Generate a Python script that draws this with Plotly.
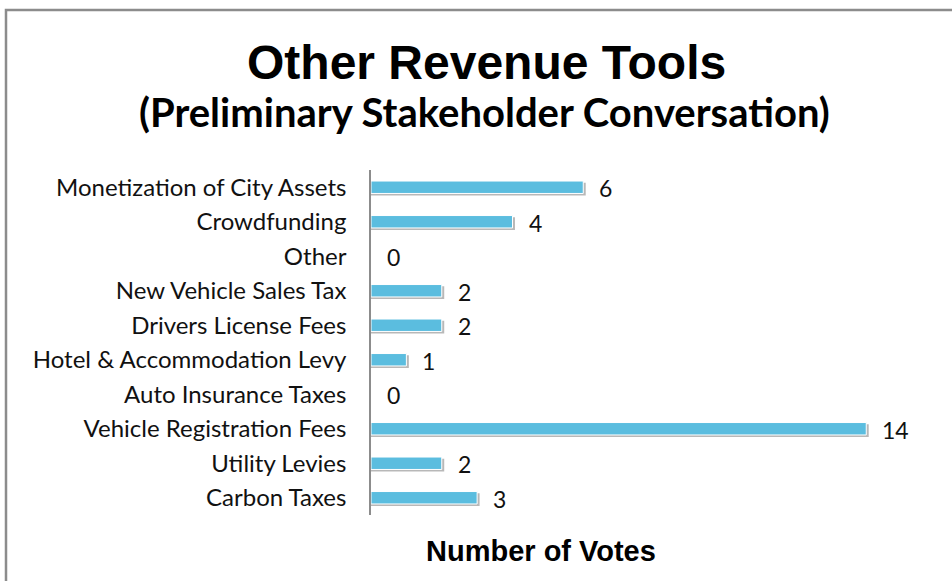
import plotly.graph_objects as go

# Chart data (top to bottom as shown)
categories = [
    "Monetization of City Assets",
    "Crowdfunding",
    "Other",
    "New Vehicle Sales Tax",
    "Drivers License Fees",
    "Hotel & Accommodation Levy",
    "Auto Insurance Taxes",
    "Vehicle Registration Fees",
    "Utility Levies",
    "Carbon Taxes",
]
votes = [6, 4, 0, 2, 2, 1, 0, 14, 2, 3]

title_text = "Other Revenue Tools"
subtitle_text = "(Preliminary Stakeholder Conversation)"
axis_title = "Number of Votes"

W, H = 952, 581
M = dict(l=371, r=15, t=170, b=66)
PW = W - M["l"] - M["r"]
PH = H - M["t"] - M["b"]

BAR_COLOR = "#5BBDDF"
LABEL_FONT = "Lato, Carlito, Calibri, sans-serif"
ARIAL = "Liberation Sans, Arial, sans-serif"


def px_x(x):
    return (x - M["l"]) / PW


def px_y(y):
    return 1 - (y - M["t"]) / PH


fig = go.Figure()

# soft shadow under the bars
fig.add_trace(go.Bar(
    x=[v + 0.07 if v else 0 for v in votes],
    y=categories,
    orientation="h",
    width=0.37,
    offset=-0.13,
    marker=dict(color="rgba(0,0,0,0.28)", line=dict(width=0)),
    hoverinfo="skip",
))

fig.add_trace(go.Bar(
    x=votes,
    y=categories,
    orientation="h",
    width=0.36,
    marker=dict(color=BAR_COLOR, line=dict(color="white", width=1)),
    hovertemplate="%{y}: %{x}<extra></extra>",
))

annotations = []
for cat, v in zip(categories, votes):
    annotations.append(dict(
        x=v, y=cat, xref="x", yref="y",
        text=str(v), showarrow=False,
        xanchor="left", xshift=14, yshift=-1,
        font=dict(family=LABEL_FONT, size=23, color="#111111"),
    ))

annotations += [
    dict(x=px_x(486), y=px_y(62), xref="paper", yref="paper",
         text=f"<b>{title_text}</b>", showarrow=False,
         xanchor="center", yanchor="middle",
         font=dict(family=ARIAL, size=48, color="black")),
    dict(x=px_x(484), y=px_y(112), xref="paper", yref="paper",
         text=f"<b>{subtitle_text}</b>", showarrow=False,
         xanchor="center", yanchor="middle",
         font=dict(family=LABEL_FONT, size=40, color="black")),
    dict(x=px_x(541), y=px_y(551), xref="paper", yref="paper",
         text=f"<b>{axis_title}</b>", showarrow=False,
         xanchor="center", yanchor="middle",
         font=dict(family=ARIAL, size=29, color="black")),
]

fig.update_layout(
    width=W, height=H,
    margin=M,
    paper_bgcolor="white",
    plot_bgcolor="white",
    barmode="overlay",
    showlegend=False,
    annotations=annotations,
    xaxis=dict(range=[0, 16], showgrid=False, zeroline=False,
               showticklabels=False, showline=False, fixedrange=True),
    yaxis=dict(autorange="reversed", showgrid=False, zeroline=False,
               showline=True, linecolor="#8C8C8C", linewidth=1.5,
               ticks="", ticklabelstandoff=18,
               tickfont=dict(family=LABEL_FONT, size=24, color="#111111")),
    shapes=[dict(type="rect", xref="paper", yref="paper",
                 x0=px_x(6), x1=px_x(W + 5), y0=px_y(10), y1=px_y(H + 5),
                 line=dict(color="#8C8C8C", width=2.5), fillcolor="rgba(0,0,0,0)",
                 layer="below")],
)

fig.write_html("out.html", config={"displayModeBar": False},
               post_script="document.body.style.margin='0';")
